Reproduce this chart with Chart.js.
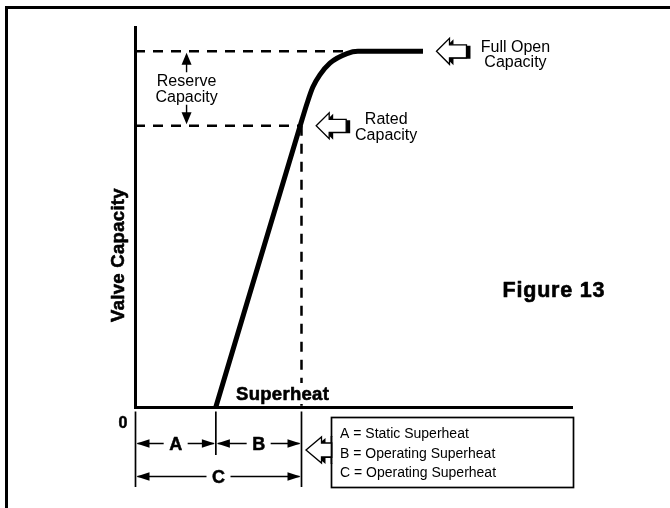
<!DOCTYPE html>
<html><head><meta charset="utf-8">
<script src="https://cdn.jsdelivr.net/npm/chart.js@4"></script>
<style>html,body{margin:0;padding:0;background:#fff;}canvas{display:block;}</style>
</head><body>
<canvas id="c" width="670" height="508"></canvas>
<script>
// ---- data ----
const superheat = [18.5, 37.8, 39.4, 40.7, 42.3, 44.6, 48.5, 51.0, 65.9];
const capacity  = [0, 74.0, 80.0, 84.2, 87.4, 90.5, 93.0, 93.6, 93.6];
const fullOpenCapacity = 93.6;
const ratedCapacity = 74.0;
const staticSuperheat = 18.5;
const operatingSuperheat = 38.1;
const reserveMarkerX = 11.8;
const fullOpenLineEnd = 51.0;
const legendLines = ['A = Static Superheat', 'B = Operating Superheat', 'C = Operating Superheat'];
const segmentLabels = ['A', 'B', 'C'];
const axisTitles = { x: 'Superheat', y: 'Valve Capacity', origin: '0' };
const callouts = { reserve: ['Reserve', 'Capacity'], rated: ['Rated', 'Capacity'], full: ['Full Open', 'Capacity'] };
const figureTitle = 'Figure 13';

const FONT = '"Liberation Sans", Arial, Helvetica, sans-serif';

function setFont(ctx, size, bold, spacing) {
  ctx.font = (bold ? 'bold ' : '') + size + 'px ' + FONT;
  if ('letterSpacing' in ctx) ctx.letterSpacing = (spacing || 0) + 'px';
}

function txt(ctx, s, x, y, size, bold, align, spacing, stroke) {
  ctx.save();
  setFont(ctx, size, bold, spacing);
  ctx.textAlign = align || 'left';
  ctx.textBaseline = 'alphabetic';
  ctx.fillStyle = '#000';
  ctx.fillText(s, x, y);
  if (stroke) { ctx.strokeStyle = '#000'; ctx.lineWidth = stroke; ctx.lineJoin = 'round'; ctx.strokeText(s, x, y); }
  ctx.restore();
}

function blockArrow(ctx, tipX, cy, len, headLen, headHalf, shaftHalf) {
  const pts = [[tipX, cy], [tipX + headLen, cy - headHalf], [tipX + headLen, cy - shaftHalf],
    [tipX + len, cy - shaftHalf], [tipX + len, cy + shaftHalf], [tipX + headLen, cy + shaftHalf],
    [tipX + headLen, cy + headHalf]];
  const path = (dx, dy) => {
    ctx.beginPath();
    pts.forEach((p, i) => i ? ctx.lineTo(p[0] + dx, p[1] + dy) : ctx.moveTo(p[0] + dx, p[1] + dy));
    ctx.closePath();
  };
  ctx.save();
  ctx.fillStyle = '#000'; path(4, 1); ctx.fill();
  ctx.fillStyle = '#fff'; path(0, 0); ctx.fill();
  ctx.lineWidth = 1.3; ctx.strokeStyle = '#000'; ctx.lineJoin = 'miter'; ctx.stroke();
  ctx.restore();
}

function headH(ctx, tipX, y, dir, len, half) {
  ctx.beginPath();
  ctx.moveTo(tipX, y);
  ctx.lineTo(tipX - dir * len, y - half);
  ctx.lineTo(tipX - dir * len, y + half);
  ctx.closePath();
  ctx.fill();
}
function headV(ctx, x, tipY, dir, len, half) {
  ctx.beginPath();
  ctx.moveTo(x, tipY);
  ctx.lineTo(x - half, tipY - dir * len);
  ctx.lineTo(x + half, tipY - dir * len);
  ctx.closePath();
  ctx.fill();
}

function dimRow(ctx, x1, x2, y, label) {
  const mid = (x1 + x2) / 2;
  ctx.save();
  ctx.fillStyle = '#000'; ctx.strokeStyle = '#000'; ctx.lineWidth = 1.4;
  ctx.beginPath();
  ctx.moveTo(x1 + 2, y); ctx.lineTo(mid - 12, y);
  ctx.moveTo(mid + 12, y); ctx.lineTo(x2 - 2, y);
  ctx.stroke();
  headH(ctx, x1 + 1, y, -1, 13, 4.2);
  headH(ctx, x2 - 1, y, 1, 13, 4.2);
  ctx.restore();
  txt(ctx, label, mid, y + 6.5, 18, true, 'center', 0, 0.5);
}

const annotations = {
  id: 'annotations',
  beforeDraw(chart) {
    const ctx = chart.ctx;
    ctx.save();
    ctx.fillStyle = '#fff';
    ctx.fillRect(0, 0, chart.width, chart.height);
    ctx.restore();
  },
  afterDraw(chart) {
    const ctx = chart.ctx;
    const xs = chart.scales.x, ys = chart.scales.y;
    const X = v => xs.getPixelForValue(v), Y = v => ys.getPixelForValue(v);
    const area = chart.chartArea;

    // outer frame
    ctx.save();
    ctx.strokeStyle = '#000'; ctx.lineWidth = 3;
    ctx.beginPath();
    ctx.moveTo(6.5, chart.height + 2); ctx.lineTo(6.5, 7.5); ctx.lineTo(chart.width + 2, 7.5);
    ctx.stroke();
    ctx.restore();

    // reserve capacity arrows
    const rx = X(reserveMarkerX);
    const yFull = Y(fullOpenCapacity), yRated = Y(ratedCapacity);
    ctx.save();
    ctx.fillStyle = '#000'; ctx.strokeStyle = '#000'; ctx.lineWidth = 1.4;
    ctx.beginPath();
    ctx.moveTo(rx, yFull + 8); ctx.lineTo(rx, yFull + 21);
    ctx.moveTo(rx, yRated - 8); ctx.lineTo(rx, yRated - 21);
    ctx.stroke();
    headV(ctx, rx, yFull + 1.5, -1, 12, 5);
    headV(ctx, rx, yRated - 1.5, 1, 12, 5);
    ctx.restore();
    txt(ctx, callouts.reserve[0], rx, yFull + 35, 16, false, 'center');
    txt(ctx, callouts.reserve[1], rx, yFull + 51, 16, false, 'center');

    // rated capacity callout
    const ratedTip = X(superheat[1]) + 16;
    blockArrow(ctx, ratedTip, yRated, 30, 13, 13, 6.5);
    txt(ctx, callouts.rated[0], ratedTip + 70, yRated - 2, 16, false, 'center');
    txt(ctx, callouts.rated[1], ratedTip + 70, yRated + 14, 16, false, 'center');

    // full open callout
    const fullTip = X(superheat[superheat.length - 1]) + 13.5;
    blockArrow(ctx, fullTip, yFull, 30, 13, 13, 6.5);
    txt(ctx, callouts.full[0], fullTip + 79, yFull + 0.5, 16, false, 'center');
    txt(ctx, callouts.full[1], fullTip + 79, yFull + 16, 16, false, 'center');

    // x axis title with knock-out background
    const tx = area.left + 101, ty = area.bottom - 7;
    ctx.save();
    setFont(ctx, 18.5, true, 0.3);
    const tw = ctx.measureText(axisTitles.x).width;
    ctx.fillStyle = '#fff';
    ctx.fillRect(tx - 3, ty - 17, tw + 6, 21);
    ctx.restore();
    txt(ctx, axisTitles.x, tx, ty, 18.5, true, 'left', 0.3, 0.6);

    // y axis title
    ctx.save();
    ctx.translate(123.5, 255);
    ctx.rotate(-Math.PI / 2);
    txt(ctx, axisTitles.y, 0, 0, 18.5, true, 'center', 0.3, 0.6);
    ctx.restore();
    txt(ctx, axisTitles.origin, 123, 427.5, 16, true, 'center', 0, 0.5);

    // figure title
    txt(ctx, figureTitle, 502.5, 297, 21.5, true, 'left', 0.8, 0.6);

    // bottom dimension section
    const x0 = X(0), xA = X(staticSuperheat), xB = X(operatingSuperheat);
    const topY = area.bottom + 4.5;
    ctx.save();
    ctx.strokeStyle = '#000'; ctx.lineWidth = 1.7;
    ctx.beginPath();
    ctx.moveTo(x0 + 0.5, topY); ctx.lineTo(x0 + 0.5, 487);
    ctx.moveTo(xA, topY); ctx.lineTo(xA, 455);
    ctx.moveTo(xB, topY); ctx.lineTo(xB, 487);
    ctx.stroke();
    ctx.restore();
    dimRow(ctx, x0 + 0.5, xA, 443.5, segmentLabels[0]);
    dimRow(ctx, xA, xB, 443.5, segmentLabels[1]);
    dimRow(ctx, x0 + 0.5, xB, 476.5, segmentLabels[2]);

    // legend box
    const bx = 331.5, by = 417.5, bw = 242, bh = 70;
    ctx.save();
    ctx.strokeStyle = '#000'; ctx.lineWidth = 1.7;
    ctx.strokeRect(bx, by, bw, bh);
    ctx.restore();
    blockArrow(ctx, xB + 4.5, 450, bx - xB - 4.5 + 1, 15.5, 13, 7);
    ctx.save();
    ctx.fillStyle = '#fff';
    ctx.fillRect(bx + 1, 437, 6, 26);
    ctx.strokeStyle = '#000'; ctx.lineWidth = 1.7;
    ctx.beginPath(); ctx.moveTo(bx, 436); ctx.lineTo(bx, 464); ctx.stroke();
    ctx.restore();
    legendLines.forEach((s, i) => txt(ctx, s, 340, 438 + i * 19.5, 14, false, 'left'));
  }
};

new Chart(document.getElementById('c'), {
  type: 'line',
  data: {
    datasets: [
      {
        data: superheat.map((x, i) => ({ x, y: capacity[i] })),
        borderColor: '#000', borderWidth: 5, pointRadius: 0,
        cubicInterpolationMode: 'monotone', clip: false
      },
      {
        data: [{ x: 0, y: fullOpenCapacity }, { x: fullOpenLineEnd, y: fullOpenCapacity }],
        borderColor: '#000', borderWidth: 2.5, borderDash: [10, 8], pointRadius: 0, clip: false
      },
      {
        data: [{ x: 0, y: ratedCapacity }, { x: superheat[1], y: ratedCapacity }],
        borderColor: '#000', borderWidth: 2.5, borderDash: [10, 8], pointRadius: 0, clip: false
      },
      {
        data: [{ x: operatingSuperheat, y: ratedCapacity }, { x: operatingSuperheat, y: 0 }],
        borderColor: '#000', borderWidth: 2.5, borderDash: [10, 8], pointRadius: 0, clip: false
      }
    ]
  },
  options: {
    responsive: false,
    animation: false,
    devicePixelRatio: 1,
    layout: { padding: { left: 135, right: 98, top: 27, bottom: 101 } },
    plugins: { legend: { display: false }, tooltip: { enabled: false } },
    scales: {
      x: {
        type: 'linear', min: 0, max: 100,
        grid: { display: false, drawTicks: false },
        ticks: { display: false },
        border: { display: true, color: '#000', width: 3 }
      },
      y: {
        type: 'linear', min: 0, max: 100,
        grid: { display: false, drawTicks: false },
        ticks: { display: false },
        border: { display: true, color: '#000', width: 3 }
      }
    }
  },
  plugins: [annotations]
});
</script>
</body></html>
